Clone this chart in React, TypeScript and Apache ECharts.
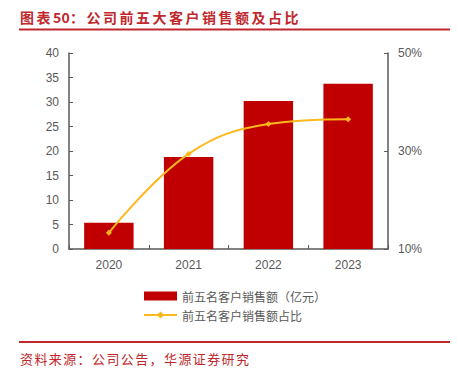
import React, { useEffect, useRef } from "react";
import * as echarts from "echarts";

const years = ["2020", "2021", "2022", "2023"];
const salesTop5 = [5.35, 18.8, 30.2, 33.7];
const shareTop5 = [13.3, 29.4, 35.5, 36.5];
const leftTicks = { min: 0, max: 40, interval: 5 };
const rightTicks = { min: 10, max: 50, interval: 20 };
const titleText = "图表50：公司前五大客户销售额及占比";
const footerText = "资料来源：公司公告，华源证券研究";
const barName = "前五名客户销售额（亿元）";
const lineName = "前五名客户销售额占比";

const RED = "#C00000";
const YELLOW = "#FFB81C";
const TEXT_RED = "#C0282D";
const GREY = "#595959";

function charTexts(text: string, x0: number, y: number, cjkStep: number, digitStep: number, fontSize: number, bold: boolean) {
  const out: any[] = [];
  let x = x0;
  for (const ch of text) {
    const isDigit = /[0-9]/.test(ch);
    out.push({
      type: "text",
      x,
      y,
      style: {
        text: ch,
        fill: TEXT_RED,
        font: `${bold ? "bold " : ""}${fontSize}px "Noto Sans CJK SC"`,
        textVerticalAlign: "middle",
      },
    });
    x += isDigit ? digitStep : cjkStep;
  }
  return out;
}

export default function App() {
  const ref = useRef<HTMLDivElement>(null);
  useEffect(() => {
    if (!ref.current) return;
    const chart = echarts.init(ref.current, null, { renderer: "svg" });
    const labelFont = { color: GREY, fontSize: 12, fontFamily: "Liberation Sans" };
    chart.setOption({
      animation: false,
      backgroundColor: "#fff",
      grid: { left: 69, right: 69, top: 53, bottom: 119 },
      xAxis: {
        type: "category",
        data: years,
        axisLine: { lineStyle: { color: GREY, width: 1.5 } },
        axisTick: { show: true, inside: true, length: 4, lineStyle: { color: GREY } },
        axisLabel: { ...labelFont, margin: 10 },
      },
      yAxis: [
        {
          type: "value",
          ...leftTicks,
          axisLine: { show: true, lineStyle: { color: GREY, width: 1.5 } },
          axisTick: { show: true, inside: true, length: 4, lineStyle: { color: GREY } },
          axisLabel: { ...labelFont, margin: 10 },
          splitLine: { show: false },
        },
        {
          type: "value",
          position: "right",
          ...rightTicks,
          axisLine: { show: true, lineStyle: { color: GREY, width: 1.5 } },
          axisTick: { show: true, inside: true, length: 4, lineStyle: { color: GREY } },
          axisLabel: { ...labelFont, margin: 10, formatter: "{value}%" },
          splitLine: { show: false },
        },
      ],
      legend: {
        orient: "vertical",
        left: 143,
        top: 290,
        padding: 0,
        itemWidth: 33,
        itemHeight: 9,
        itemGap: 7,
        textStyle: { color: GREY, fontSize: 12, fontFamily: "Noto Sans CJK SC" },
        data: [
          { name: barName, icon: "rect" },
          { name: lineName },
        ],
      },
      series: [
        {
          name: barName,
          type: "bar",
          data: salesTop5,
          barWidth: "62%",
          itemStyle: { color: RED },
        },
        {
          name: lineName,
          type: "line",
          yAxisIndex: 1,
          data: shareTop5,
          smooth: 0.4,
          symbol: "diamond",
          symbolSize: 6,
          lineStyle: { color: YELLOW, width: 2 },
          itemStyle: { color: YELLOW },
        },
      ],
      graphic: [
        ...charTexts(titleText, 20, 17, 16.5, 8.5, 14, true),
        { type: "line", shape: { x1: 19, y1: 29.5, x2: 450, y2: 29.5 }, style: { stroke: TEXT_RED, lineWidth: 2 } },
        { type: "line", shape: { x1: 19, y1: 342, x2: 450, y2: 342 }, style: { stroke: TEXT_RED, lineWidth: 2 } },
        ...charTexts(footerText, 20, 358, 14.4, 7, 13, false),
      ],
    });
    return () => chart.dispose();
  }, []);
  return <div ref={ref} style={{ width: 457, height: 368, position: "absolute", left: 0, top: 0 }} />;
}
